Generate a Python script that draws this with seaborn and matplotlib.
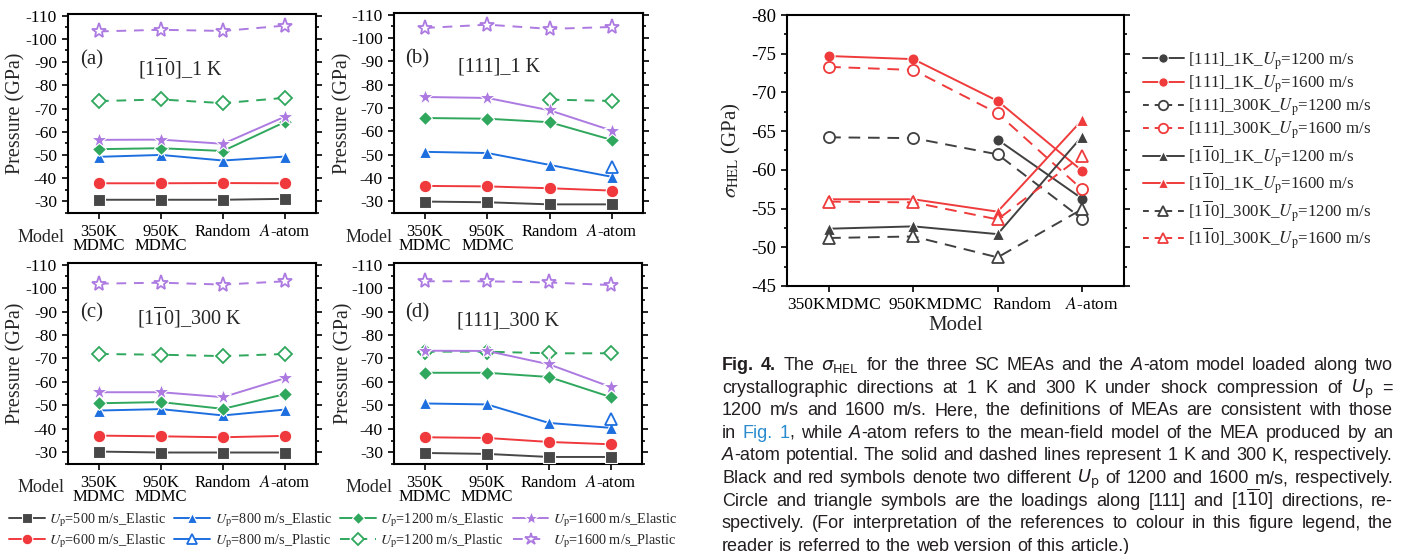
import numpy as np
import pandas as pd
import seaborn as sns
import matplotlib.pyplot as plt
from matplotlib.lines import Line2D
from matplotlib.ticker import MultipleLocator
from matplotlib.transforms import ScaledTranslation
from matplotlib import font_manager

nan = np.nan

models = ['350K\nMDMC', '950K\nMDMC', 'Random', '$A$-atom']
hel_models = ['350KMDMC', '950KMDMC', 'Random', '$A$-atom']
positions = [0, 1, 2, 3]

# (a) [1-10]_1 K
a_500_el = [-30.7, -30.7, -30.7, -31.1]
a_600_el = [-37.8, -37.8, -37.9, -37.8]
a_800_el = [-49.2, -50.0, -47.6, -49.3]
a_800_pl = [nan, nan, nan, nan]
a_1200_el = [-52.5, -52.9, -51.7, -64.2]
a_1200_pl = [-73.2, -73.9, -72.3, -74.6]
a_1600_el = [-56.5, -56.6, -54.8, -66.5]
a_1600_pl = [-103.2, -103.9, -103.4, -105.7]

# (b) [111]_1 K
b_500_el = [-29.9, -29.6, -28.7, -28.7]
b_600_el = [-36.6, -36.4, -35.6, -34.6]
b_800_el = [-51.2, -50.7, -45.6, -40.5]
b_800_pl = [nan, nan, nan, -44.8]
b_1200_el = [-65.7, -65.4, -63.9, -56.3]
b_1200_pl = [nan, nan, -73.6, -73.0]
b_1600_el = [-74.7, -74.3, -69.0, -60.3]
b_1600_pl = [-104.3, -105.7, -103.9, -104.7]

# (c) [1-10]_300 K
c_500_el = [-30.3, -29.9, -29.9, -29.9]
c_600_el = [-37.1, -36.8, -36.4, -37.0]
c_800_el = [-47.8, -48.4, -45.7, -48.2]
c_800_pl = [nan, nan, nan, nan]
c_1200_el = [-50.9, -51.4, -48.5, -54.8]
c_1200_pl = [-71.9, -71.6, -71.0, -71.9]
c_1600_el = [-55.6, -55.6, -53.5, -61.6]
c_1600_pl = [-101.9, -102.3, -101.5, -102.9]

# (d) [111]_300 K
d_500_el = [-29.7, -29.3, -28.0, -28.0]
d_600_el = [-36.4, -36.1, -34.4, -33.4]
d_800_el = [-50.8, -50.4, -42.5, -40.4]
d_800_pl = [nan, nan, nan, -44.2]
d_1200_el = [-63.9, -63.9, -62.1, -53.5]
d_1200_pl = [-72.9, -72.9, -72.2, -72.2]
d_1600_el = [-73.3, -73.2, -67.5, -57.8]
d_1600_pl = [-102.9, -102.9, -102.4, -101.3]

# sigma_HEL (right panel)
hel_111_1k_1200 = [nan, nan, -63.9, -56.3]
hel_111_1k_1600 = [-74.7, -74.3, -68.9, -59.9]
hel_111_300k_1200 = [-64.2, -64.1, -62.0, -53.7]
hel_111_300k_1600 = [-73.3, -72.9, -67.3, -57.5]
hel_110_1k_1200 = [-52.4, -52.7, -51.7, -64.3]
hel_110_1k_1600 = [-56.2, -56.2, -54.6, -66.4]
hel_110_300k_1200 = [-51.2, -51.4, -48.7, -54.9]
hel_110_300k_1600 = [-55.9, -55.8, -53.6, -61.8]

up_labels = ['$U_\\mathrm{p}$=500 m/s_Elastic', '$U_\\mathrm{p}$=600 m/s_Elastic',
             '$U_\\mathrm{p}$=800 m/s_Elastic', '$U_\\mathrm{p}$=800 m/s_Plastic',
             '$U_\\mathrm{p}$=1200 m/s_Elastic', '$U_\\mathrm{p}$=1200 m/s_Plastic',
             '$U_\\mathrm{p}$=1600 m/s_Elastic', '$U_\\mathrm{p}$=1600 m/s_Plastic']
hel_labels = ['[111]_1K_$U_\\mathrm{p}$=1200 m/s', '[111]_1K_$U_\\mathrm{p}$=1600 m/s',
              '[111]_300K_$U_\\mathrm{p}$=1200 m/s', '[111]_300K_$U_\\mathrm{p}$=1600 m/s',
              '[1$\\overline{1}$0]_1K_$U_\\mathrm{p}$=1200 m/s', '[1$\\overline{1}$0]_1K_$U_\\mathrm{p}$=1600 m/s',
              '[1$\\overline{1}$0]_300K_$U_\\mathrm{p}$=1200 m/s', '[1$\\overline{1}$0]_300K_$U_\\mathrm{p}$=1600 m/s']

panels = [
    ('(a)', '[1$\\overline{1}$0]_1 K', [a_500_el, a_600_el, a_800_el, a_800_pl, a_1200_el, a_1200_pl, a_1600_el, a_1600_pl]),
    ('(b)', '[111]_1 K', [b_500_el, b_600_el, b_800_el, b_800_pl, b_1200_el, b_1200_pl, b_1600_el, b_1600_pl]),
    ('(c)', '[1$\\overline{1}$0]_300 K', [c_500_el, c_600_el, c_800_el, c_800_pl, c_1200_el, c_1200_pl, c_1600_el, c_1600_pl]),
    ('(d)', '[111]_300 K', [d_500_el, d_600_el, d_800_el, d_800_pl, d_1200_el, d_1200_pl, d_1600_el, d_1600_pl]),
]
hel_series = [hel_111_1k_1200, hel_111_1k_1600, hel_111_300k_1200, hel_111_300k_1600,
              hel_110_1k_1200, hel_110_1k_1600, hel_110_300k_1200, hel_110_300k_1600]

# colour, marker, filled, dashed, markersize
gray, red, blue, green, purple = '#474747', '#f0393d', '#1d6fe0', '#2fa75d', '#ac7ae0'
up_styles = [(gray, 's', True, False, 8), (red, 'o', True, False, 9),
             (blue, '^', True, False, 9), (blue, '^', False, False, 9),
             (green, 'D', True, False, 7.5), (green, 'D', False, True, 7.5),
             (purple, '*', True, False, 12), (purple, '*', False, True, 11)]
hgray, hred = '#404040', '#ef3b3b'
hel_styles = [(hgray, 'o', True, False, 8), (hred, 'o', True, False, 8),
              (hgray, 'o', False, True, 8), (hred, 'o', False, True, 8),
              (hgray, '^', True, False, 8.5), (hred, '^', True, False, 8.5),
              (hgray, '^', False, True, 8.5), (hred, '^', False, True, 8.5)]

sns.set_style('ticks')
plt.rcParams['font.family'] = ['Liberation Serif', 'DejaVu Serif']
plt.rcParams['mathtext.fontset'] = 'stix'
plt.rcParams['axes.unicode_minus'] = False

W, H = 1406, 554
fig = plt.figure(figsize=(W / 100, H / 100), dpi=100)


def px_axes(l, t, r, b):
    return fig.add_axes([l / W, 1 - b / H, (r - l) / W, (b - t) / H])


def draw(ax, ys, color, marker, filled, dashed, ms, dash=(5, 4)):
    d = pd.DataFrame({'pos': positions, 'val': ys}).dropna()
    if d.empty:
        return
    sns.lineplot(data=d, x='pos', y='val', ax=ax, color=color, linewidth=1.4,
                 linestyle=(0, dash) if dashed else '-', marker=marker, markersize=ms,
                 markerfacecolor=color if filled else 'white',
                 markeredgecolor='white' if filled else color,
                 markeredgewidth=0.8 if filled else 1.3, legend=False, zorder=3)


def proxy(color, marker, filled, dashed, ms, dash=(5, 4)):
    return Line2D([], [], color=color, lw=1.4, linestyle=(0, dash) if dashed else '-',
                  marker=marker, markersize=ms * 0.85,
                  markerfacecolor=color if filled else 'white',
                  markeredgecolor='white' if filled else color,
                  markeredgewidth=0.8 if filled else 1.3)


def frame(ax, major, minor, ysize, xsize):
    ax.yaxis.set_major_locator(MultipleLocator(major))
    ax.yaxis.set_minor_locator(MultipleLocator(minor))
    ax.tick_params(which='both', direction='out', right=True, width=1.2, color='black',
                   labelcolor='black')
    ax.tick_params(axis='y', labelsize=ysize)
    ax.tick_params(axis='x', labelsize=xsize)
    ax.tick_params(which='major', length=4.5)
    ax.tick_params(which='minor', length=2.5)
    for s in ax.spines.values():
        s.set_linewidth(1.5)
        s.set_color('black')
    ax.set_xlim(-0.5, 3.5)


# left four panels
boxes = [(68, 14, 316, 213), (394, 13, 643, 213), (68, 263, 316, 464), (394, 263, 642, 464)]
tag_pos = [(0.048, 0.77), (0.044, 0.77), (0.048, 0.75), (0.044, 0.75)]
title_pos = [(0.455, 0.73), (0.42, 0.73), (0.49, 0.73), (0.46, 0.71)]
ylab_x = [-0.17, -0.165, -0.17, -0.165]
for i, (tag, title, series) in enumerate(panels):
    ax = px_axes(*boxes[i])
    for ys, st in zip(series, up_styles):
        draw(ax, ys, *st)
    ax.set_ylim(-25, -110.7)
    frame(ax, 10, 5, 12.5, 12)
    ax.set_xticks(positions)
    ax.set_xticklabels(models, linespacing=0.8)
    ax.set_xlabel('')
    ax.set_ylabel('Pressure (GPa)', fontsize=14.5)
    ax.yaxis.set_label_coords(ylab_x[i], 0.5)
    ax.text(*tag_pos[i], tag, transform=ax.transAxes, fontsize=15, va='center', ha='left')
    ax.text(*title_pos[i], title, transform=ax.transAxes, fontsize=14.5, va='center', ha='center')
    mx = 41 if i % 2 == 0 else 369
    my = 237 if i < 2 else 488
    fig.text(mx / W, 1 - my / H, 'Model', fontsize=13, ha='center', va='center')

fig.legend(handles=[proxy(*st) for st in up_styles], labels=up_labels, ncol=4,
           loc='upper left', bbox_to_anchor=(9 / W, 1 - 511 / H), frameon=False,
           fontsize=10.3, handlelength=2.5, handletextpad=0.3, columnspacing=0.6,
           labelspacing=0.25, borderpad=0, borderaxespad=0)

# right panel: sigma_HEL
axr = px_axes(787, 15, 1124, 286)
for ys, st in zip(hel_series, hel_styles):
    draw(axr, ys, *st, dash=(6, 4))
axr.set_ylim(-45, -80)
frame(axr, 5, 2.5, 13.5, 12.5)
axr.set_xticks(positions)
axr.set_xticklabels(hel_models)
for lab, dx in zip(axr.get_xticklabels(), [5, 22, 24, 10]):
    lab.set_transform(lab.get_transform() + ScaledTranslation(dx / 100, 0, fig.dpi_scale_trans))
axr.set_xlabel('Model', fontsize=15, labelpad=2)
axr.set_ylabel('$\\sigma_\\mathrm{HEL}$ (GPa)', fontsize=15)
axr.yaxis.set_label_coords(-0.13, 0.5)
fig.legend(handles=[proxy(*st, dash=(3, 3)) for st in hel_styles], labels=hel_labels,
           loc='upper left', bbox_to_anchor=(1143 / W, 1 - 50 / H), frameon=False,
           fontsize=12.2, handlelength=2.4, handletextpad=0.25, labelspacing=0.1,
           borderpad=0, borderaxespad=0)

# caption
names = {f.name for f in font_manager.fontManager.ttflist}
cap_font = 'Liberation Sans Narrow' if 'Liberation Sans Narrow' in names else 'Liberation Sans'
ital_A = [('A', 'i'), ('-atom', None)]
cap_lines = [
    [[('Fig.', 'b')], [('4.', 'b')], 'The', '$\\sigma_{\\mathrm{HEL}}$',
     'for the three SC MEAs and the', ital_A, 'model loaded along two'],
    ['crystallographic directions at 1 K and 300 K under shock compression of', '$U_{\\mathrm{p}}$', '='],
    ['1200 m/s and 1600 m/s. Here, the definitions of MEAs are consistent with those'],
    ['in', [('Fig.', 'u')], [('1', 'u'), (',', None)], 'while', ital_A,
     'refers to the mean-field model of the MEA produced by an'],
    [ital_A, 'potential. The solid and dashed lines represent 1 K and 300 K, respectively.'],
    ['Black and red symbols denote two different', '$U_{\\mathrm{p}}$', 'of 1200 and 1600 m/s, respectively.'],
    ['Circle and triangle symbols are the loadings along [111] and', '[1$\\overline{1}$0]', 'directions, re-'],
    ['spectively. (For interpretation of the references to colour in this figure legend, the'],
    ['reader is referred to the web version of this article.)'],
]


def words_of(line):
    out = []
    for item in line:
        if isinstance(item, str):
            out += [[(w, None)] for w in item.split(' ')]
        else:
            out.append(item)
    return out


renderer = fig.canvas.get_renderer()


def make_word(word, size):
    arts = []
    for txt, st in word:
        kw = dict(fontsize=size, family=[cap_font, 'DejaVu Sans'], color='#231f20',
                  va='baseline', ha='left', math_fontfamily='dejavusans')
        if st == 'b':
            kw['fontweight'] = 'bold'
        elif st == 'i':
            kw['fontstyle'] = 'italic'
        elif st == 'u':
            kw['color'] = '#2a8ccf'
        arts.append(fig.text(0, 0, txt, **kw))
    widths = [a.get_window_extent(renderer).width for a in arts]
    return arts, widths


x0, x1 = 722, 1393
size = 13.3
space = 0.28 * size * 100 / 72
nat = []
for line in cap_lines[:-1]:
    tot = 0
    wl = words_of(line)
    for w in wl:
        arts, ws = make_word(w, size)
        tot += sum(ws)
        for a in arts:
            a.remove()
    nat.append(tot + space * (len(wl) - 1))
if max(nat) > (x1 - x0):
    size = size * (x1 - x0) / max(nat) * 0.99

for k, line in enumerate(cap_lines):
    wl = words_of(line)
    built = [make_word(w, size) for w in wl]
    total = sum(sum(ws) for _, ws in built)
    if k < len(cap_lines) - 1:
        gap = (x1 - x0 - total) / (len(wl) - 1)
    else:
        gap = 0.28 * size * 100 / 72
    x = x0
    yb = 1 - (370 + 22.6 * k) / H
    for arts, ws in built:
        for a, w in zip(arts, ws):
            a.set_position((x / W, yb))
            x += w
        x += gap

fig.savefig('out.png', dpi=100)
